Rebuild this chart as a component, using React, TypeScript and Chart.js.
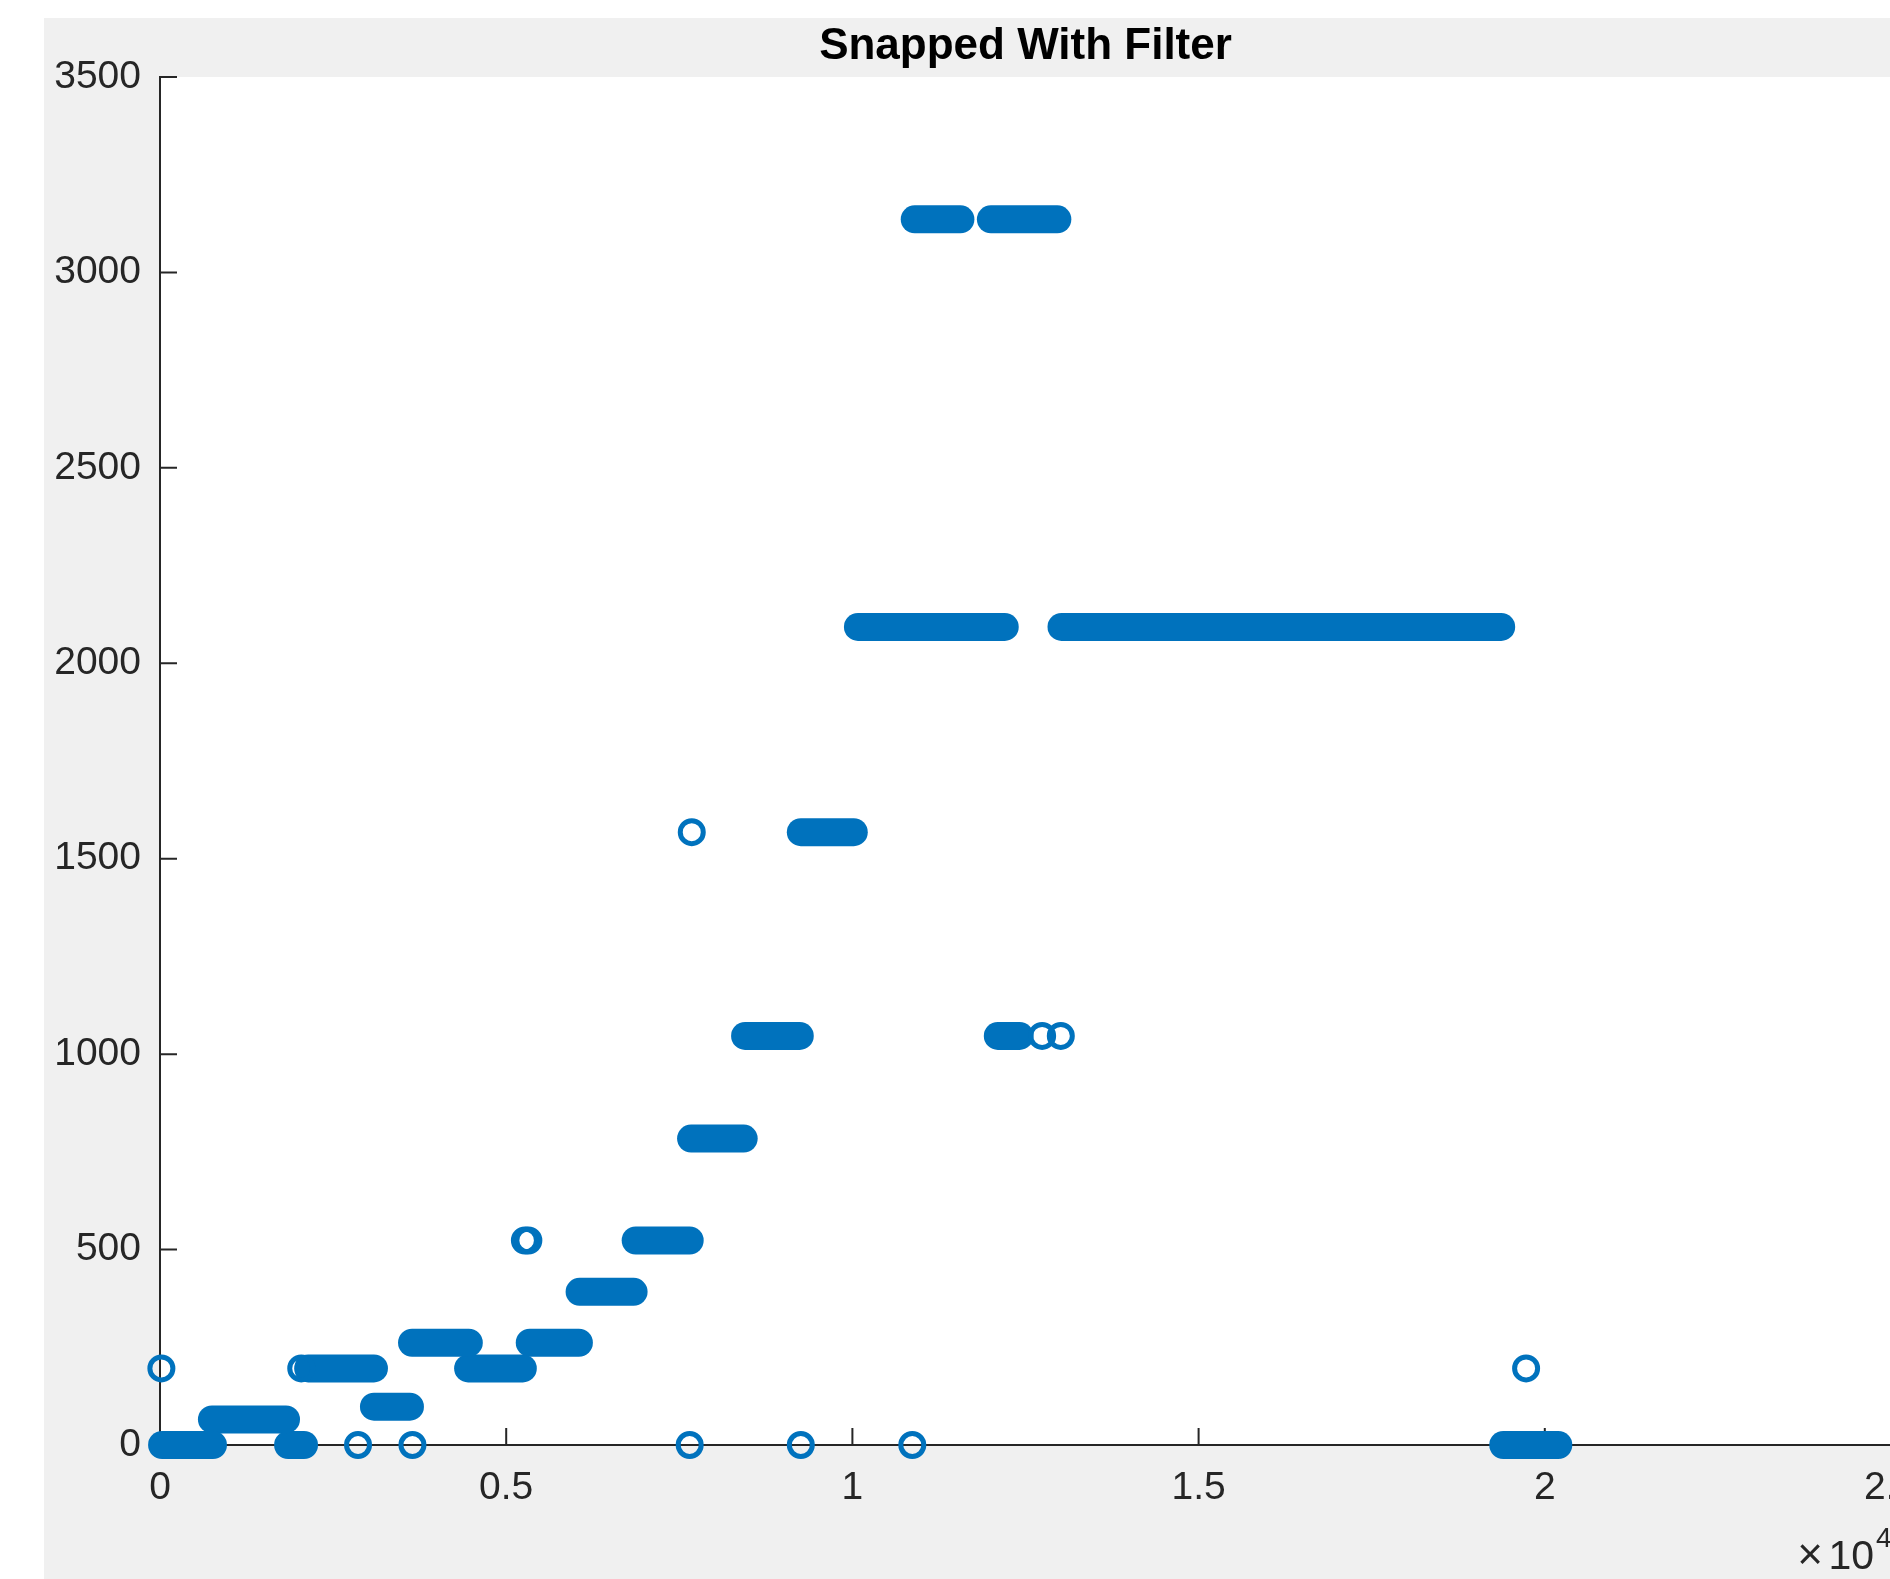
import React, { useEffect, useRef } from 'react';
import { Chart, registerables } from 'chart.js';

Chart.register(...registerables);

// ---- data ----
const TITLE = 'Snapped With Filter';

// runs of consecutive samples snapped to the same note frequency
const RUN_START = [30, 750, 1850, 2140, 3090, 3640, 4450, 5340, 6060, 6870, 7670, 8450, 9255, 10080, 10900, 12000, 12100, 13020, 19400];
const RUN_END = [765, 1820, 2080, 3090, 3610, 4460, 5240, 6050, 6840, 7650, 8430, 9240, 10020, 12200, 11560, 12960, 12415, 19370, 20195];
const RUN_FREQ = [0, 65.41, 0, 196, 98, 261.63, 196, 261.63, 392, 523.25, 783.99, 1046.5, 1567.98, 2093, 3135.96, 3135.96, 1046.5, 2093, 0];

// isolated samples
const POINT_X = [20, 2040, 2860, 3646, 5270, 5320, 7650, 7680, 9255, 10865, 12740, 13010, 19730];
const POINT_Y = [196, 196, 0, 0, 523.25, 523.25, 0, 1567.98, 0, 0, 1046.5, 1046.5, 196];

const X_TICKS = [0, 5000, 10000, 15000, 20000, 25000];
const X_TICK_LABELS = ['0', '0.5', '1', '1.5', '2', '2.5'];
const X_EXPONENT = '4';
const Y_TICKS = [0, 500, 1000, 1500, 2000, 2500, 3000, 3500];
const Y_TICK_LABELS = ['0', '500', '1000', '1500', '2000', '2500', '3000', '3500'];

// ---- style ----
const BLUE = '#0072BD';
const AXIS_COLOR = '#262626';
const FIG_BG = '#F0F0F0';
const FONT = '"Liberation Sans", Arial, Helvetica, sans-serif';
const RIGHT_PAD = 80;
const CANVAS_W = 1891 + RIGHT_PAD;
const CANVAS_H = 1579;
const TICK_LEN = 17;

export default function App() {
  const ref = useRef<HTMLCanvasElement | null>(null);

  useEffect(() => {
    if (!ref.current) return;

    const runDatasets = RUN_START.map((s, i) => ({
      label: 'run' + i,
      data: [
        { x: s, y: RUN_FREQ[i] },
        { x: RUN_END[i], y: RUN_FREQ[i] },
      ],
      showLine: true,
      borderColor: BLUE,
      borderWidth: 28,
      borderCapStyle: 'round' as const,
      pointRadius: 0,
      pointHoverRadius: 0,
      fill: false,
      clip: false as const,
    }));

    const pointDataset = {
      label: 'points',
      data: POINT_X.map((x, i) => ({ x, y: POINT_Y[i] })),
      showLine: false,
      pointStyle: 'circle' as const,
      pointRadius: 11.5,
      pointHoverRadius: 11.5,
      pointBorderWidth: 5,
      pointBackgroundColor: 'rgba(0,0,0,0)',
      pointBorderColor: BLUE,
      clip: false as const,
    };

    const background = {
      id: 'figBackground',
      beforeDraw(chart: any) {
        const { ctx, chartArea, width, height } = chart;
        ctx.save();
        ctx.fillStyle = '#ffffff';
        ctx.fillRect(0, 0, width, height);
        ctx.fillStyle = FIG_BG;
        ctx.fillRect(44, 18, width - 44, height - 18);
        ctx.fillStyle = '#ffffff';
        ctx.fillRect(chartArea.left, chartArea.top, chartArea.right - chartArea.left, chartArea.bottom - chartArea.top);
        ctx.restore();
      },
    };

    const inwardTicks = {
      id: 'inwardTicks',
      beforeDatasetsDraw(chart: any) {
        const { ctx, chartArea, scales } = chart;
        ctx.save();
        ctx.strokeStyle = AXIS_COLOR;
        ctx.lineWidth = 2;
        ctx.beginPath();
        for (const v of Y_TICKS) {
          const y = scales.y.getPixelForValue(v);
          ctx.moveTo(chartArea.left, y);
          ctx.lineTo(chartArea.left + TICK_LEN, y);
        }
        for (const v of X_TICKS) {
          const x = scales.x.getPixelForValue(v);
          ctx.moveTo(x, chartArea.bottom);
          ctx.lineTo(x, chartArea.bottom - TICK_LEN);
        }
        ctx.stroke();
        ctx.restore();
      },
    };

    const exponentLabel = {
      id: 'exponentLabel',
      afterDraw(chart: any) {
        const { ctx, chartArea } = chart;
        ctx.save();
        ctx.fillStyle = AXIS_COLOR;
        ctx.textBaseline = 'alphabetic';
        ctx.font = `41px ${FONT}`;
        ctx.textAlign = 'right';
        ctx.fillText('10', chartArea.right - 17, chartArea.bottom + 124);
        ctx.font = `44px ${FONT}`;
        ctx.fillText('\u00d7', chartArea.right - 68, chartArea.bottom + 124);
        ctx.font = `28px ${FONT}`;
        ctx.textAlign = 'left';
        ctx.fillText(X_EXPONENT, chartArea.right - 15, chartArea.bottom + 102);
        ctx.restore();
      },
    };

    const chart = new Chart(ref.current, {
      type: 'scatter',
      data: { datasets: [pointDataset as any, ...(runDatasets as any[])] },
      options: {
        animation: false,
        responsive: false,
        devicePixelRatio: 1,
        events: [],
        layout: { padding: { top: 20.8, left: 0, right: RIGHT_PAD, bottom: 0 } },
        plugins: {
          legend: { display: false },
          tooltip: { enabled: false },
          title: {
            display: true,
            text: TITLE,
            fullSize: false,
            color: '#000000',
            font: { family: FONT, size: 44, weight: 'bold' },
            padding: { top: 0, bottom: 3.4 },
          },
        },
        scales: {
          x: {
            type: 'linear',
            min: 0,
            max: 25000,
            afterBuildTicks: (s: any) => {
              s.ticks = X_TICKS.map((v) => ({ value: v }));
            },
            afterFit: (s: any) => {
              s.height = 134;
            },
            ticks: {
              autoSkip: false,
              maxRotation: 0,
              minRotation: 0,
              padding: 20,
              color: AXIS_COLOR,
              font: { family: FONT, size: 39 },
              callback: (_v: any, i: number) => X_TICK_LABELS[i],
            },
            grid: { display: true, drawOnChartArea: false, drawTicks: false },
            border: { display: true, color: AXIS_COLOR, width: 2 },
          },
          y: {
            type: 'linear',
            min: 0,
            max: 3500,
            afterBuildTicks: (s: any) => {
              s.ticks = Y_TICKS.map((v) => ({ value: v }));
            },
            afterFit: (s: any) => {
              s.width = 160;
            },
            ticks: {
              autoSkip: false,
              padding: 19,
              color: AXIS_COLOR,
              font: { family: FONT, size: 39 },
              callback: (_v: any, i: number) => Y_TICK_LABELS[i],
            },
            grid: { display: true, drawOnChartArea: false, drawTicks: false },
            border: { display: true, color: AXIS_COLOR, width: 2 },
          },
        },
      } as any,
      plugins: [background, inwardTicks, exponentLabel],
    });

    return () => chart.destroy();
  }, []);

  return (
    <div
      style={{
        position: 'fixed',
        left: 0,
        top: 0,
        width: 1890,
        height: 1579,
        overflow: 'hidden',
        background: '#ffffff',
      }}
    >
      <canvas
        ref={ref}
        width={CANVAS_W}
        height={CANVAS_H}
        style={{ display: 'block', width: CANVAS_W, height: CANVAS_H }}
      />
    </div>
  );
}
